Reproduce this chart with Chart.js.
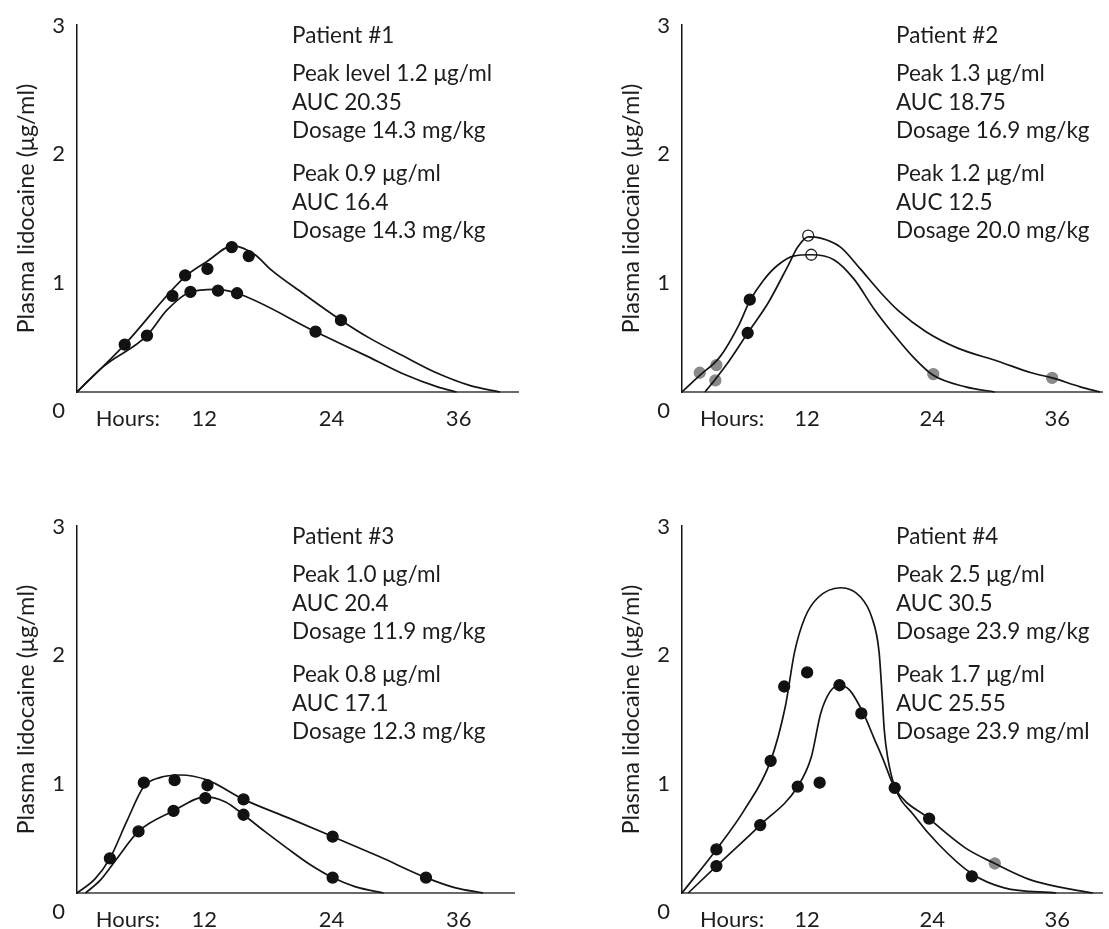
<!DOCTYPE html>
<html lang="en">
<head>
<meta charset="UTF-8" />
<title>Plasma lidocaine</title>
<script src="https://cdn.jsdelivr.net/npm/chart.js@4"></script>
<style>
  body { margin: 0; background: #fff; width: 1109px; height: 929px; position: relative; overflow: hidden; font-family: Lato, sans-serif; color: #1d1d1d; }
  canvas { position: absolute; }
  .note { position: absolute; font-size: 22.5px; line-height: 28.5px; white-space: nowrap; }
</style>
</head>
<body>
<canvas id="p1" width="540" height="445" style="left:0;top:0"></canvas>
<canvas id="p2" width="504" height="445" style="left:605px;top:0"></canvas>
<canvas id="p3" width="536" height="428" style="left:0;top:501px"></canvas>
<canvas id="p4" width="504" height="428" style="left:605px;top:501px"></canvas>

<div class="note" style="left:292px;top:21px">Patient #1</div>
<div class="note" style="left:292px;top:59px">Peak level 1.2 μg/ml<br>AUC 20.35<br>Dosage 14.3 mg/kg</div>
<div class="note" style="left:292px;top:159px">Peak 0.9 μg/ml<br>AUC 16.4<br>Dosage 14.3 mg/kg</div>

<div class="note" style="left:896px;top:21px">Patient #2</div>
<div class="note" style="left:896px;top:59px">Peak 1.3 μg/ml<br>AUC 18.75<br>Dosage 16.9 mg/kg</div>
<div class="note" style="left:896px;top:159px">Peak 1.2 μg/ml<br>AUC 12.5<br>Dosage 20.0 mg/kg</div>

<div class="note" style="left:292px;top:522px">Patient #3</div>
<div class="note" style="left:292px;top:560px">Peak 1.0 μg/ml<br>AUC 20.4<br>Dosage 11.9 mg/kg</div>
<div class="note" style="left:292px;top:660px">Peak 0.8 μg/ml<br>AUC 17.1<br>Dosage 12.3 mg/kg</div>

<div class="note" style="left:896px;top:522px">Patient #4</div>
<div class="note" style="left:896px;top:560px">Peak 2.5 μg/ml<br>AUC 30.5<br>Dosage 23.9 mg/kg</div>
<div class="note" style="left:896px;top:660px">Peak 1.7 μg/ml<br>AUC 25.55<br>Dosage 23.9 mg/ml</div>

<script>
  // ticks
  var yTickValues = [0, 1, 2, 3];
  var xTickHours = [4.8, 12, 24, 36];
  var xTickText = ["Hours:", "12", "24", "36"];

  // Patient #1
  var p1UpHours = [0, 4.5, 10.2, 12.3, 14.7, 16.8, 18.2, 21.3, 24.9, 27.6, 30.8, 33.9, 37.1, 39.9];
  var p1UpLevel = [0.17, 0.54, 1.07, 1.19, 1.31, 1.24, 1.13, 0.94, 0.73, 0.59, 0.45, 0.32, 0.22, 0.17];
  var p1LowHours = [0, 2.5, 6.6, 8.5, 10.7, 13.0, 15.1, 22.5, 27.6, 30.8, 34.0, 35.8];
  var p1LowLevel = [0.17, 0.37, 0.61, 0.81, 0.95, 0.97, 0.94, 0.64, 0.44, 0.31, 0.21, 0.17];
  var p1DotHours = [4.5, 9.0, 10.2, 12.3, 14.6, 16.2, 24.9, 6.6, 10.7, 13.3, 15.1, 22.5];
  var p1DotLevel = [0.54, 0.92, 1.08, 1.13, 1.30, 1.23, 0.73, 0.61, 0.95, 0.96, 0.94, 0.64];

  // Patient #2
  var p2RoundHours = [0, 1.7, 3.6, 5.5, 6.5, 7.8, 9.2, 10.7, 12.4, 14.6, 16.5, 18.4, 20.3, 22.2, 24.1, 27.2, 30.0];
  var p2RoundLevel = [0.17, 0.30, 0.44, 0.70, 0.88, 1.04, 1.16, 1.23, 1.24, 1.20, 1.05, 0.82, 0.62, 0.44, 0.30, 0.21, 0.17];
  var p2SteepHours = [2.2, 3.2, 4.5, 6.3, 8.3, 10.2, 11.1, 12.1, 13.3, 15.2, 17.1, 19.0, 20.8, 23.4, 26.5, 30.3, 33.5, 35.5, 38.2, 40.1];
  var p2SteepLevel = [0.17, 0.27, 0.41, 0.63, 0.87, 1.16, 1.30, 1.38, 1.37, 1.30, 1.13, 0.95, 0.80, 0.64, 0.51, 0.41, 0.32, 0.28, 0.21, 0.17];
  var p2DotHours = [6.5, 6.3];
  var p2DotLevel = [0.89, 0.63];
  var p2GrayHours = [1.7, 3.3, 3.2, 24.1, 35.5];
  var p2GrayLevel = [0.32, 0.38, 0.26, 0.31, 0.28];
  var p2OpenHours = [12.1, 12.4];
  var p2OpenLevel = [1.39, 1.24];

  // Patient #3
  var p3UpHours = [0, 1.7, 3.1, 4.7, 6.3, 7.8, 9.7, 12.3, 15.7, 20.1, 24.1, 28.6, 32.9, 35.7, 38.3];
  var p3UpLevel = [0.17, 0.28, 0.44, 0.73, 1.00, 1.07, 1.09, 1.05, 0.90, 0.75, 0.61, 0.45, 0.29, 0.21, 0.17];
  var p3LowHours = [0.8, 2.2, 3.6, 5.8, 9.1, 12.1, 14.0, 15.7, 17.7, 19.8, 22.0, 24.1, 26.2, 28.9];
  var p3LowLevel = [0.17, 0.27, 0.42, 0.65, 0.81, 0.92, 0.88, 0.78, 0.65, 0.52, 0.39, 0.29, 0.22, 0.17];
  var p3DotHours = [3.1, 6.3, 9.2, 12.3, 15.7, 24.1, 32.9, 5.8, 9.1, 12.1, 15.7, 24.1];
  var p3DotLevel = [0.44, 1.03, 1.05, 1.01, 0.90, 0.61, 0.29, 0.65, 0.81, 0.91, 0.78, 0.29];

  // Patient #4
  var p4UpHours = [0, 3.3, 6.0, 8.5, 9.9, 10.8, 11.8, 13.0, 15.2, 17.1, 18.2, 18.9, 19.2, 19.4, 19.7, 20.4, 22.2, 24.6, 27.8, 30.9, 35.9];
  var p4UpLevel = [0.17, 0.51, 0.82, 1.20, 1.62, 2.05, 2.32, 2.47, 2.55, 2.48, 2.32, 2.05, 1.70, 1.44, 1.24, 1.00, 0.78, 0.55, 0.32, 0.21, 0.17];
  var p4LowHours = [0.6, 3.3, 7.5, 11.1, 12.4, 13.3, 14.2, 15.1, 16.1, 17.4, 18.4, 19.3, 20.4, 23.7, 27.2, 30.0, 33.5, 36.6, 39.4];
  var p4LowLevel = [0.17, 0.38, 0.70, 1.00, 1.23, 1.57, 1.74, 1.79, 1.75, 1.57, 1.38, 1.21, 0.99, 0.75, 0.52, 0.40, 0.27, 0.21, 0.17];
  var p4DotHours = [3.3, 3.3, 7.5, 8.5, 9.8, 12.0, 11.1, 13.2, 15.1, 17.2, 20.4, 23.7, 27.8];
  var p4DotLevel = [0.51, 0.38, 0.70, 1.20, 1.78, 1.89, 1.00, 1.03, 1.79, 1.57, 0.99, 0.75, 0.30];
  var p4GrayHours = [30.0];
  var p4GrayLevel = [0.40];

  function pts(xs, ys) {
    return xs.map(function (x, i) { return { x: x, y: ys[i] }; });
  }

  function curve(xs, ys) {
    return {
      data: pts(xs, ys),
      showLine: true,
      borderColor: "#151515",
      borderWidth: 1.7,
      pointRadius: 0,
      cubicInterpolationMode: "monotone",
      clip: 6,
    };
  }

  function dots(xs, ys, fill, edge) {
    return {
      data: pts(xs, ys),
      showLine: false,
      pointRadius: 5.5,
      pointBackgroundColor: fill,
      pointBorderColor: edge,
      pointBorderWidth: 1.3,
      clip: 8,
    };
  }

  var tickFont = { family: "Lato", size: 22 };

  function panel(id, xMax, rightPad, datasets) {
    var canvas = document.getElementById(id);
    var h = canvas.height;
    return new Chart(canvas, {
      type: "scatter",
      data: { datasets: datasets },
      options: {
        responsive: false,
        animation: false,
        layout: { padding: { top: 18, right: rightPad, left: 0, bottom: 0 } },
        plugins: { legend: { display: false }, tooltip: { enabled: false } },
        scales: {
          x: {
            type: "linear",
            min: 0,
            max: xMax,
            grid: { display: false, drawTicks: false },
            border: { color: "#6a6a6a", width: 2 },
            afterFit: function (s) { s.height = h - 392; },
            afterBuildTicks: function (s) {
              s.ticks = xTickHours.map(function (v) { return { value: v }; });
            },
            ticks: {
              autoSkip: false,
              maxRotation: 0,
              padding: 14,
              color: "#1d1d1d",
              font: tickFont,
              callback: function (v, i) { return xTickText[i]; },
            },
          },
          y: {
            type: "linear",
            min: 0.17,
            max: 3.03,
            grid: { display: false, drawTicks: false },
            border: { color: "#151515", width: 1.5 },
            afterFit: function (s) { s.width = 77; },
            afterBuildTicks: function (s) {
              s.ticks = yTickValues.map(function (v) { return { value: v }; });
            },
            ticks: {
              autoSkip: false,
              padding: 12,
              labelOffset: -3,
              color: "#1d1d1d",
              font: tickFont,
              callback: function (v) { return String(v); },
            },
            title: {
              display: true,
              text: "Plasma lidocaine (μg/ml)",
              color: "#1d1d1d",
              font: { family: "Lato", size: 23.5 },
              padding: { top: 12, bottom: 0 },
            },
          },
        },
      },
    });
  }

  panel("p1", 41.6, 22, [
    curve(p1UpHours, p1UpLevel),
    curve(p1LowHours, p1LowLevel),
    dots(p1DotHours, p1DotLevel, "#111", "#111"),
  ]);

  panel("p2", 40.3, 0, [
    curve(p2RoundHours, p2RoundLevel),
    curve(p2SteepHours, p2SteepLevel),
    dots(p2DotHours, p2DotLevel, "#111", "#111"),
    dots(p2GrayHours, p2GrayLevel, "#8a8a8a", "#8a8a8a"),
    dots(p2OpenHours, p2OpenLevel, "#fff", "#222"),
  ]);

  panel("p3", 41.2, 22, [
    curve(p3UpHours, p3UpLevel),
    curve(p3LowHours, p3LowLevel),
    dots(p3DotHours, p3DotLevel, "#111", "#111"),
  ]);

  panel("p4", 40.3, 0, [
    curve(p4UpHours, p4UpLevel),
    curve(p4LowHours, p4LowLevel),
    dots(p4DotHours, p4DotLevel, "#111", "#111"),
    dots(p4GrayHours, p4GrayLevel, "#8a8a8a", "#8a8a8a"),
  ]);
</script>
</body>
</html>
